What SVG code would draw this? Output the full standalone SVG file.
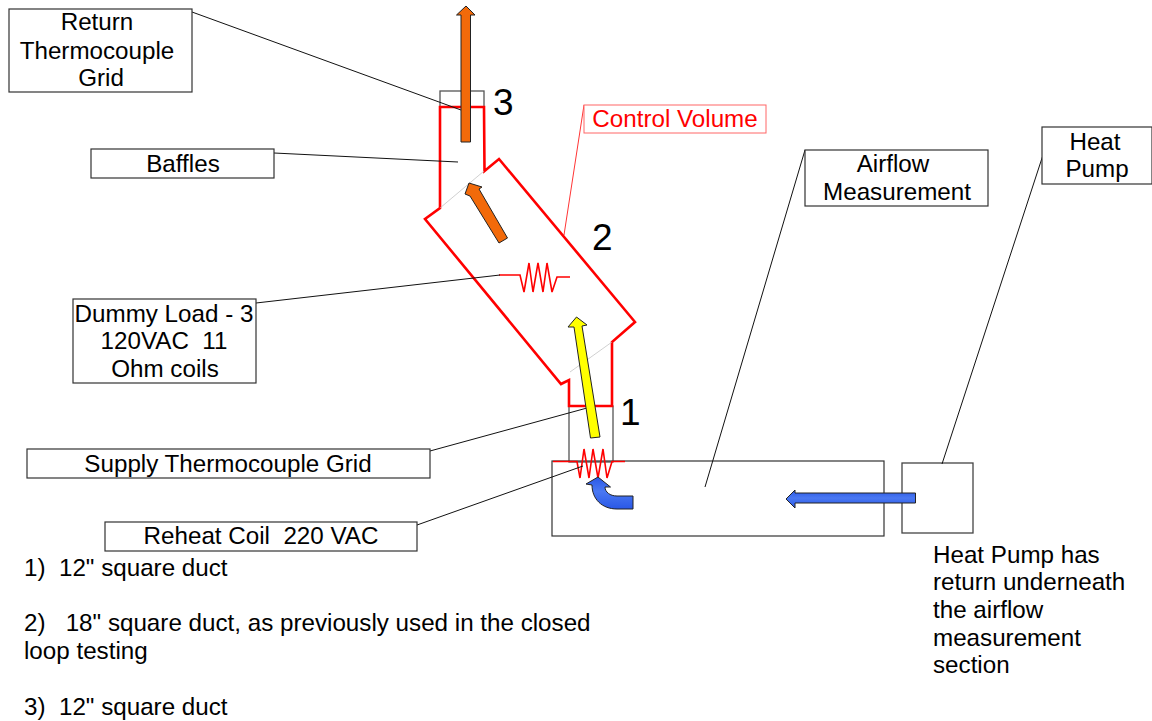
<svg xmlns="http://www.w3.org/2000/svg" width="1152" height="721" viewBox="0 0 1152 721">
<defs><linearGradient id="b" x1="0" y1="0" x2="0" y2="1"><stop offset="0" stop-color="#2a58e6"/><stop offset="0.45" stop-color="#4a78f2"/><stop offset="1" stop-color="#2a58e6"/></linearGradient></defs>
<style>
text{font-family:"Liberation Sans",Arial,sans-serif;font-size:24.2px;fill:#000;white-space:pre}
.m{text-anchor:middle}
.n{font-size:37px}
.box{fill:#fff;stroke:#333;stroke-width:1.2}
.gray{fill:none;stroke:#555;stroke-width:1.3}
.l{fill:none;stroke:#111;stroke-width:1}
.r{fill:none;stroke:#f00;stroke-width:2.6}
.rt{fill:none;stroke:#f00;stroke-width:1.6}
.ar{stroke:#222;stroke-width:1}
</style>
<rect width="1152" height="721" fill="#fff"/>
<g id="duct-return"><rect class="gray" x="440" y="91" width="44" height="16"/></g>
<g id="duct-supply"><rect class="gray" x="569" y="406" width="44" height="56"/></g>
<g id="airflow-section"><rect x="552" y="461" width="332" height="75" fill="none" stroke="#333" stroke-width="1.2"/></g>
<g id="heat-pump-box"><rect x="902" y="463" width="71" height="70" fill="none" stroke="#444" stroke-width="1.3"/></g>
<g id="control-volume">
<path class="r" d="M440 107H484L484.500 171L499 159L635 322L612 342V406H569V380L561 384L425 219L440 208Z"/>
<path d="M440 208L484 171M570 372L612 342" fill="none" stroke="#bbb" stroke-width="0.7"/>
<path class="rt" d="M499 275H520L524 292L529 263L533 292L538 263L543 292L547 263L552 292L557 277H570"/>
<path class="rt" d="M553 461.500H577L580 478L584 449L589 478L593 449L598 478L603 449L607 478L612 461.500H625"/>
</g>
<g id="connectors">
<path class="l" d="M192 12L461 110"/>
<path class="l" d="M274 153L458 162"/>
<path class="l" d="M256 303L500 275"/>
<path class="l" d="M430 451L587 408"/>
<path class="l" d="M417 525L583 466"/>
<path d="M564 235L584 105" fill="none" stroke="#f00" stroke-width="0.8"/>
<path class="l" d="M705 487L805 150"/>
<path class="l" d="M942 464L1043 155"/>
</g>
<g id="arrows">
<path class="ar" fill="#f26a0a" d="M461 142H470.500V15H475L466 6L456.500 15H461Z"/>
<path class="ar" fill="#f26a0a" d="M499 243L507.500 238L479 189L482 187L469 183L465 194L470 196Z"/>
<path class="ar" fill="#ff0" d="M590.500 438L600 437L582 326L587 325L576.500 317L568 327L574 327Z"/>
<path class="ar" fill="url(#b)" d="M633 509V496H617C610 496 605 492 605 487L610.500 487L598 477L586 484L592 485C592 499 602 509 617 509Z"/>
<path class="ar" fill="url(#b)" d="M915.500 493V503H795V508L786 499L795 490V493Z"/>
</g>
<g id="return-tc"><rect class="box" x="9" y="9" width="183" height="83"/><text class="m" x="97" y="30">Return</text><text class="m" x="97" y="59">Thermocouple</text><text class="m" x="101" y="86">Grid</text></g>
<g id="baffles"><rect class="box" x="91" y="149" width="183" height="29"/><text class="m" x="183" y="172">Baffles</text></g>
<g id="dummy-load"><rect class="box" x="73" y="299" width="183" height="84"/><text class="m" x="164" y="322">Dummy Load - 3</text><text class="m" x="164" y="349">120VAC  11</text><text class="m" x="165" y="377">Ohm coils</text></g>
<g id="supply-tc"><rect class="box" x="27" y="449" width="403" height="29"/><text class="m" x="228" y="472">Supply Thermocouple Grid</text></g>
<g id="reheat"><rect class="box" x="105" y="522" width="312" height="29"/><text class="m" x="261" y="544">Reheat Coil  220 VAC</text></g>
<g id="control-label"><rect x="584" y="105" width="182" height="28" fill="#fff" stroke="#f66" stroke-width="1"/><text class="m" x="675" y="127" style="fill:#f00">Control Volume</text></g>
<g id="airflow"><rect class="box" x="805" y="150" width="183" height="56"/><text class="m" x="893" y="172">Airflow</text><text class="m" x="897" y="200">Measurement</text></g>
<g id="heat-pump"><rect class="box" x="1042" y="127" width="110" height="57"/><text class="m" x="1095" y="150">Heat</text><text class="m" x="1097" y="177">Pump</text></g>
<text class="n" x="493" y="115">3</text><text class="n" x="592" y="250">2</text><text class="n" x="620" y="425">1</text>
<text x="933" y="563">Heat Pump has</text><text x="933" y="590">return underneath</text><text x="933" y="618">the airflow</text><text x="933" y="646">measurement</text><text x="933" y="673">section</text>
<text x="24" y="576">1)  12" square duct</text>
<text x="24" y="631">2)   18" square duct, as previously used in the closed</text>
<text x="24" y="659">loop testing</text>
<text x="24" y="715">3)  12" square duct</text>
</svg>
